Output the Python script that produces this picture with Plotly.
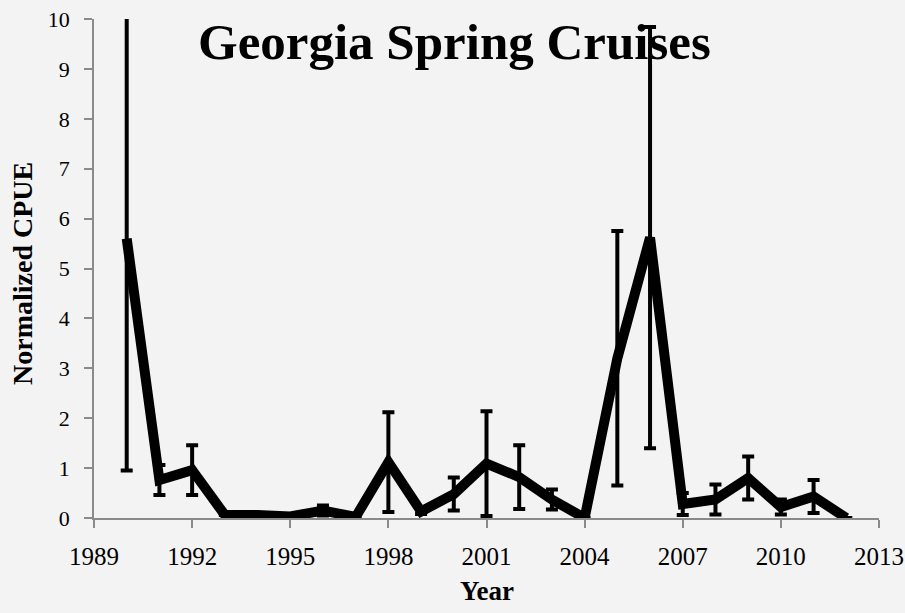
import plotly.graph_objects as go

# Normalized CPUE by cruise year, with ± error
years = [1990, 1991, 1992, 1993, 1994, 1995, 1996, 1997, 1998, 1999, 2000,
         2001, 2002, 2003, 2004, 2005, 2006, 2007, 2008, 2009, 2010, 2011, 2012]
cpue = [5.6, 0.76, 0.96, 0.06, 0.06, 0.03, 0.15, 0.02, 1.12, 0.13, 0.48,
        1.09, 0.82, 0.37, 0.0, 3.2, 5.62, 0.28, 0.37, 0.8, 0.22, 0.43, 0.0]
err = [4.65, 0.3, 0.5, 0.0, 0.0, 0.0, 0.1, 0.0, 1.0, 0.05, 0.33,
       1.05, 0.64, 0.2, 0.0, 2.55, 4.22, 0.22, 0.3, 0.43, 0.15, 0.33, 0.0]

x_ticks = list(range(1989, 2014, 3))
y_ticks = list(range(0, 11))

serif = "Liberation Serif, DejaVu Serif, serif"
axis_grey = "#8a8a8a"

fig = go.Figure()
fig.add_trace(go.Scatter(
    x=years, y=cpue, mode="lines",
    line=dict(color="black", width=10),
    error_y=dict(type="data", array=err, visible=True,
                 color="black", thickness=4, width=6),
    showlegend=False,
))

fig.update_layout(
    width=905, height=613,
    margin=dict(l=94, r=26, t=19, b=95),
    paper_bgcolor="#f3f3f3", plot_bgcolor="#f3f3f3",
    font=dict(family=serif, color="black", size=20),
    xaxis=dict(
        range=[1989, 2013], tickvals=x_ticks, ticktext=[str(v) for v in x_ticks],
        showgrid=False, zeroline=False, showline=True, linecolor=axis_grey,
        linewidth=1.5, ticks="outside", ticklen=8, tickcolor=axis_grey,
        tickwidth=1.5, ticklabelstandoff=7, automargin=False,
        tickfont=dict(family=serif, size=25),
    ),
    yaxis=dict(
        range=[0, 10], tickvals=y_ticks,
        showgrid=False, zeroline=False, showline=True, linecolor=axis_grey,
        linewidth=1.5, ticks="outside", ticklen=8, tickcolor=axis_grey,
        tickwidth=1.5, ticklabelstandoff=10, automargin=False,
        tickfont=dict(family=serif, size=22),
    ),
    annotations=[
        dict(text="<b>Georgia Spring Cruises</b>", x=0.5, y=1,
             xref="paper", yref="paper", showarrow=False,
             font=dict(family=serif, size=51, color="black")),
        dict(text="<b>Year</b>", x=0.5, y=0, xref="paper", yref="paper",
             showarrow=False, font=dict(family=serif, size=27)),
        dict(text="<b>Normalized CPUE</b>", x=0, y=0.5, xref="paper",
             yref="paper", showarrow=False, textangle=-90,
             font=dict(family=serif, size=28)),
    ],
)

# place text annotations in pixel terms relative to the plot area
pw, ph = 905 - 94 - 26, 613 - 19 - 95
ann = fig.layout.annotations
ann[0].update(x=(454 - 94) / pw, y=(518 - 42) / ph, xanchor="center", yanchor="middle")
ann[1].update(x=(487 - 94) / pw, y=(518 - 591) / ph, xanchor="center", yanchor="middle")
ann[2].update(x=(22 - 94) / pw, y=(518 - 274) / ph, xanchor="center", yanchor="middle")

fig.write_html("out.html")
